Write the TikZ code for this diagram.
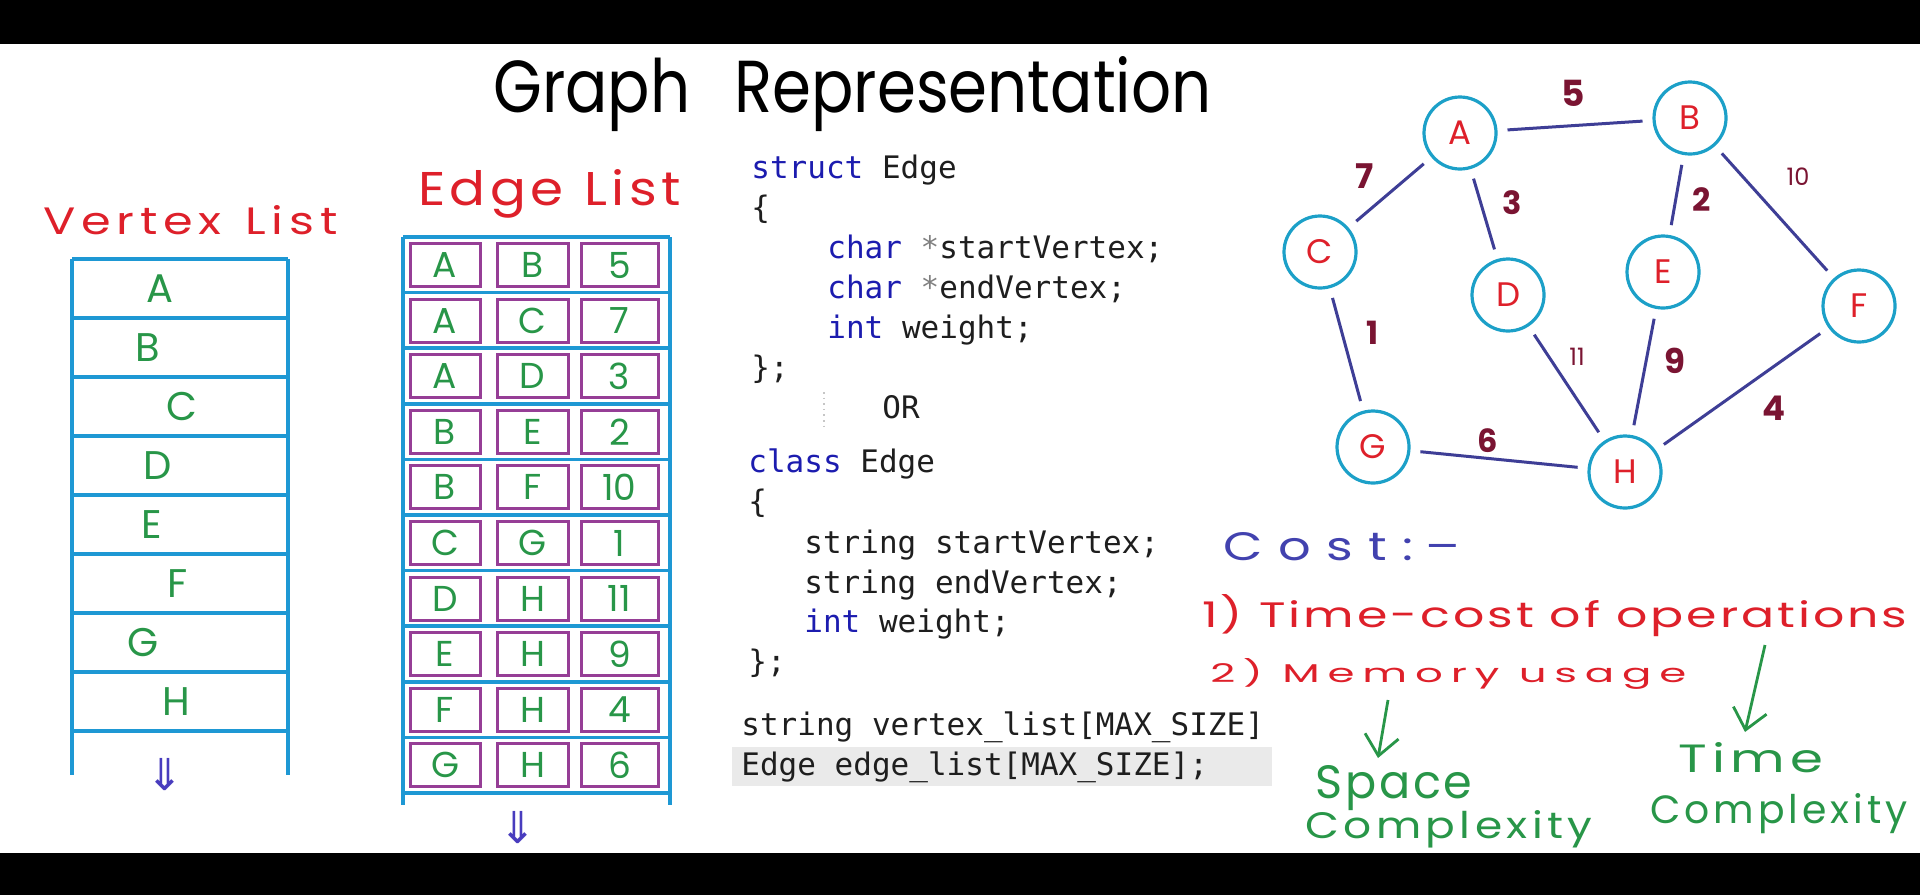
\documentclass[tikz,border=0pt]{standalone}
\usepackage{fontspec}
\usepackage{graphicx}
\usetikzlibrary{arrows.meta}
\newfontfamily\hand{Poppins}
\newfontfamily\codefont{DejaVu Sans Mono}
\newfontfamily\symfont{DejaVu Sans}
\definecolor{listblue}{RGB}{30,152,212}
\definecolor{boxpurple}{RGB}{150,62,150}
\definecolor{hgreen}{RGB}{40,150,72}
\definecolor{hred}{RGB}{222,32,42}
\definecolor{ringcyan}{RGB}{28,160,200}
\definecolor{edgeblue}{RGB}{62,62,150}
\definecolor{wred}{RGB}{122,20,50}
\definecolor{costblue}{RGB}{66,66,175}
\definecolor{arrowblue}{RGB}{72,60,190}
\definecolor{kwblue}{RGB}{28,28,175}
\definecolor{codetxt}{RGB}{30,30,30}
\definecolor{hilite}{RGB}{234,234,234}
\newcommand{\fitwh}[3]{\resizebox{#1}{#2}{#3}}
\newcommand{\kwd}[1]{\textcolor{kwblue}{#1}}
\newcommand{\ptrmark}{\textcolor{gray}{*}}
\begin{document}
\begin{tikzpicture}[x=0.5pt,y=-0.5pt,
  listline/.style={draw=listblue,line width=1.8pt},
  cellbox/.style={draw=boxpurple,line width=1.5pt,minimum height=21.5pt,inner sep=0pt,text=hgreen,font=\hand\fontsize{18}{20}\selectfont},
  vlet/.style={text=hgreen,inner sep=0pt,font=\hand\fontsize{20}{22}\selectfont},
  gnode/.style={circle,draw=ringcyan,line width=1.6pt,minimum size=36pt,inner sep=0pt,text=hred,font=\hand\fontsize{17}{20}\selectfont},
  gedge/.style={draw=edgeblue,line width=1.5pt,shorten >=5pt,shorten <=5pt},
  wlab/.style={text=wred,inner sep=0pt,font=\hand\bfseries\fontsize{16}{18}\selectfont},
  thinlab/.style={text=wred,inner sep=0pt,font=\hand\fontsize{12}{14}\selectfont},
  code/.style={anchor=base west,inner sep=0pt,text=codetxt,font=\codefont\fontsize{15.5}{18}\selectfont},
  htext/.style={inner sep=0pt,font=\hand,anchor=base west},
  dblarrow/.style={text=arrowblue,inner sep=0pt,font=\symfont\fontsize{22}{24}\selectfont},
  garrow/.style={draw=hgreen,line width=1.4pt,-{Straight Barb[length=10pt,width=17pt]}}
]
\useasboundingbox (0,0) rectangle (1920,895);
\fill[white] (0,0) rectangle (1920,895);
\fill[black] (0,0) rectangle (1920,44);
\fill[black] (0,853) rectangle (1920,895);

% title
\node[htext,text=black] (title) at (493,112) {\fitwh{359pt}{28pt}{Graph\hspace{0.7em}Representation}};

% vertex list
\node[htext,text=hred] (vtitle) at (43,234) {\fitwh{147pt}{14.5pt}{\addfontfeature{LetterSpace=12}Vertex\hspace{0.5em}List}};
\draw[listline] (72,259) -- (72,775);
\draw[listline] (288,259) -- (288,775);
\foreach \k in {0,...,8} \draw[listline] (72,259+59*\k) -- (288,259+59*\k);
\foreach \l/\xx [count=\i] in {A/160,B/148,C/182,D/158,E/152,F/178,G/143,H/176}
  \node[vlet] (v\l) at (\xx,{288.5+59*(\i-1)}) {\l};
\node[dblarrow] (vdown) at (165,775) {⇓};

% edge list
\node[htext,text=hred] (etitle) at (418,205) {\fitwh{131pt}{18pt}{\addfontfeature{LetterSpace=8}Edge\hspace{0.4em}List}};
\draw[listline] (403,237) -- (403,805);
\draw[listline] (670,237) -- (670,805);
\foreach \k in {0,...,10} \draw[listline] (403,237+55.6*\k) -- (670,237+55.6*\k);
\foreach \a/\b/\w [count=\i] in {A/B/5,A/C/7,A/D/3,B/E/2,B/F/10,C/G/1,D/H/11,E/H/9,F/H/4,G/H/6}{
  \node[cellbox,minimum width=35pt] (es\i) at (445,{265+55.6*(\i-1)}) {\a};
  \node[cellbox,minimum width=35.5pt] (ee\i) at (532.5,{265+55.6*(\i-1)}) {\b};
  \node[cellbox,minimum width=38.5pt] (ew\i) at (619.5,{265+55.6*(\i-1)}) {\w};
}
\node[dblarrow] (edown) at (518,828) {⇓};

% code
\fill[hilite] (732,747) rectangle (1272,786);
\node[code] (c1) at (751,178) {\kwd{struct} Edge};
\node[code] (c2) at (751,218) {\{};
\node[code] (c3) at (827,258) {\kwd{char} \ptrmark startVertex;};
\node[code] (c4) at (827,298) {\kwd{char} \ptrmark endVertex;};
\node[code] (c5) at (827,338) {\kwd{int} weight;};
\node[code] (c6) at (751,378) {\};};
\draw[gray!45,dotted,line width=0.8pt] (824,392) -- (824,428);
\node[code] (c7) at (882,418) {OR};
\node[code] (c8) at (748,472) {\kwd{class} Edge};
\node[code] (c9) at (748,512) {\{};
\node[code] (c10) at (804,553) {string startVertex;};
\node[code] (c11) at (804,593) {string endVertex;};
\node[code] (c12) at (804,632) {\kwd{int} weight;};
\node[code] (c13) at (748,672) {\};};
\node[code] (c14) at (741,735) {string vertex\_list[MAX\_SIZE]};
\node[code] (c15) at (741,775) {Edge edge\_list[MAX\_SIZE];};

% graph
\node[gnode] (A) at (1460,133) {A};
\node[gnode] (B) at (1690,118) {B};
\node[gnode] (C) at (1320,252) {C};
\node[gnode] (D) at (1508,295) {D};
\node[gnode] (E) at (1663,272) {E};
\node[gnode] (F) at (1859,306) {F};
\node[gnode] (G) at (1373,447) {G};
\node[gnode] (H) at (1625,472) {H};
\draw[gedge] (A) -- (B);
\draw[gedge] (A) -- (C);
\draw[gedge] (A) -- (D);
\draw[gedge] (B) -- (E);
\draw[gedge] (B) -- (F);
\draw[gedge] (C) -- (G);
\draw[gedge] (D) -- (H);
\draw[gedge] (E) -- (H);
\draw[gedge] (F) -- (H);
\draw[gedge] (G) -- (H);
\node[wlab,font=\hand\bfseries\fontsize{18}{20}\selectfont] (w5) at (1573,93) {5};
\node[wlab,font=\hand\bfseries\fontsize{17}{20}\selectfont] (w7) at (1365,176) {7};
\node[wlab] (w3) at (1512,203) {3};
\node[wlab] (w2) at (1702,200) {2};
\node[thinlab] (w10) at (1798,177) {10};
\node[wlab] (w1) at (1372,333) {1};
\node[thinlab] (w11) at (1577,357) {11};
\node[wlab,font=\hand\bfseries\fontsize{17}{20}\selectfont] (w9) at (1675,361) {9};
\node[wlab,font=\hand\bfseries\fontsize{17}{20}\selectfont] (w4) at (1774,408) {4};
\node[wlab] (w6) at (1488,441) {6};

% cost
\node[htext,text=costblue] (cost) at (1223,560) {\fitwh{118.5pt}{14pt}{C\hspace{0.3em}o\hspace{0.3em}s\hspace{0.3em}t\hspace{0.3em}:\hspace{0.25em}–}};
\node[htext,text=hred] (cost1) at (1202,627) {\fitwh{352.5pt}{16.5pt}{\addfontfeature{LetterSpace=6}1) Time-cost of operations}};
\node[htext,text=hred] (cost2) at (1210,682) {\fitwh{238pt}{12pt}{\addfontfeature{LetterSpace=18}2) Memory usage}};
\coordinate (m1) at (1388,700);
\coordinate (m2) at (1378,758);
\coordinate (o1) at (1765,645);
\coordinate (o2) at (1745,732);
\draw[garrow] (m1) -- (m2);
\draw[garrow] (o1) -- (o2);
\node[htext,text=hgreen] (space) at (1315,798) {\fitwh{78.5pt}{16.5pt}{\addfontfeature{LetterSpace=6}Space}};
\node[htext,text=hgreen] (scomp) at (1305,838) {\fitwh{143.5pt}{14pt}{\addfontfeature{LetterSpace=10}Complexity}};
\node[htext,text=hgreen] (time) at (1678,772) {\fitwh{72.5pt}{15pt}{\addfontfeature{LetterSpace=10}Time}};
\node[htext,text=hgreen] (tcomp) at (1650,823) {\fitwh{128.5pt}{15pt}{\addfontfeature{LetterSpace=10}Complexity}};
\end{tikzpicture}
\end{document}
